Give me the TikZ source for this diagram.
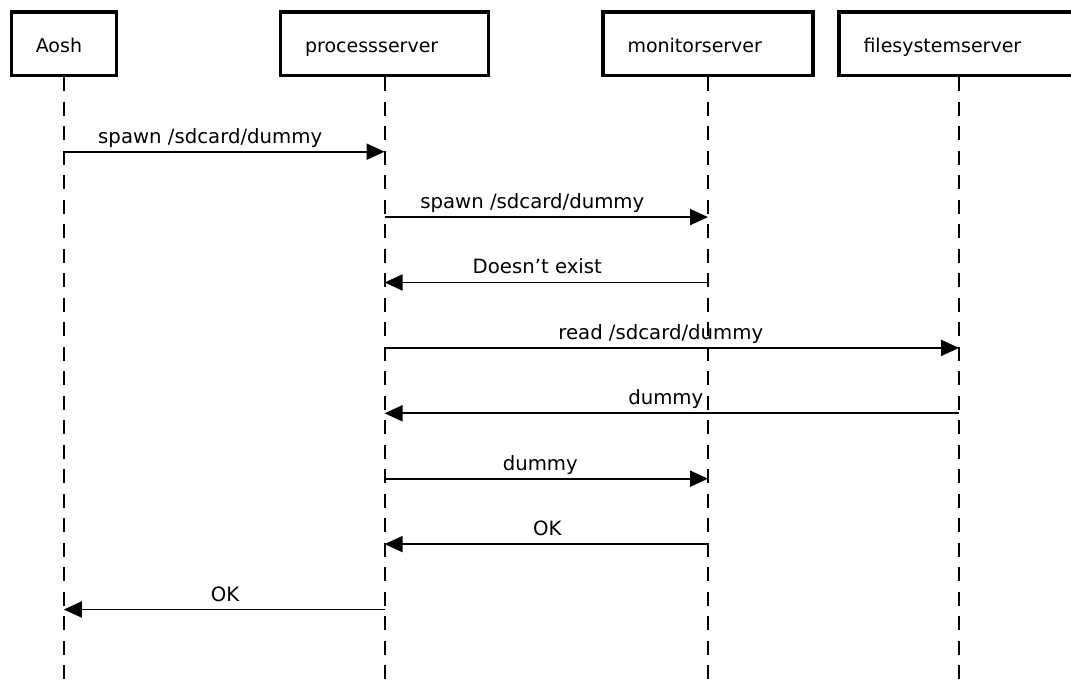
\documentclass[tikz,border=0pt]{standalone}
\usepackage{fontspec}
\setmainfont{DejaVu Sans}
\usetikzlibrary{arrows.meta}
\begin{document}
\begin{tikzpicture}[x=1pt,y=-1pt,
  every node/.style={font=\fontsize{19}{23}\selectfont},
  actor/.style={draw, line width=3.5pt, minimum height=63.5pt, inner xsep=24.5pt,
    inner ysep=0pt, align=left, text height=19.5pt, text depth=1pt},
  lifeline/.style={line width=2pt, dash pattern=on 14pt off 10.5pt},
  msg/.style={line width=1.9pt, -{Triangle[length=18pt,width=16pt]}},
  msgtext/.style={anchor=base, inner sep=0pt, yshift=8.5pt,
    font=\fontsize{19.7}{23}\selectfont}]
\useasboundingbox (0,0) rectangle (1071,684);

% participants
\node[actor, minimum width=104.5pt, text width=56pt]  (A) at (63.8,43.75)  {Aosh};
\node[actor, minimum width=208pt,   text width=159pt] (P) at (384.6,43.75) {processserver};
\node[actor, minimum width=210pt,   text width=161pt] (M) at (708,43.75)   {monitorserver};
\node[actor, minimum width=240pt,   text width=191pt] (F) at (959,43.75)   {filesystemserver};

% lifeline ends
\coordinate (Ab) at (A |- 0,684);
\coordinate (Pb) at (P |- 0,684);
\coordinate (Mb) at (M |- 0,684);
\coordinate (Fb) at (F |- 0,684);

\draw[lifeline] (A.south) -- (Ab);
\draw[lifeline] (P.south) -- (Pb);
\draw[lifeline] (M.south) -- (Mb);
\draw[lifeline] (F.south) -- (Fb);

% message rows
\coordinate (r1) at (0,151.7);
\coordinate (r2) at (0,217.1);
\coordinate (r3) at (0,282.5);
\coordinate (r4) at (0,347.9);
\coordinate (r5) at (0,413.3);
\coordinate (r6) at (0,478.7);
\coordinate (r7) at (0,544.1);
\coordinate (r8) at (0,609.5);

% messages
\draw[msg] (A |- r1) -- node[msgtext, xshift=-14pt] (t1) {spawn /sdcard/dummy} (P |- r1);
\draw[msg] (P |- r2) -- node[msgtext, xshift=-14pt] (t2) {spawn /sdcard/dummy} (M |- r2);
\draw[msg] (M |- r3) -- node[msgtext, xshift=-9pt]  (t3) {Doesn’t exist} (P |- r3);
\draw[msg] (P |- r4) -- node[msgtext, xshift=-11pt] (t4) {read /sdcard/dummy} (F |- r4);
\draw[msg] (F |- r5) -- node[msgtext, xshift=-6pt]  (t5) {dummy} (P |- r5);
\draw[msg] (P |- r6) -- node[msgtext, xshift=-6pt]  (t6) {dummy} (M |- r6);
\draw[msg] (M |- r7) -- node[msgtext, xshift=1pt]   (t7) {OK} (P |- r7);
\draw[msg] (P |- r8) -- node[msgtext, xshift=1pt]   (t8) {OK} (A |- r8);
\end{tikzpicture}
\end{document}
